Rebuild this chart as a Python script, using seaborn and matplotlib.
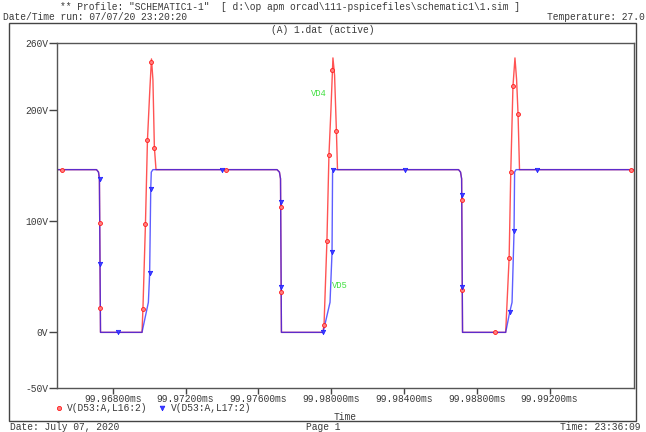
import matplotlib
matplotlib.use("Agg")
import matplotlib.pyplot as plt
import seaborn as sns
import numpy as np
import pandas as pd
from matplotlib.lines import Line2D
from matplotlib.patches import Rectangle

# trace data (time in ms, volts)
red_t = [99.96494, 99.96711, 99.96722, 99.96727, 99.96733, 99.96961, 99.96966,
         99.96980, 99.96991, 99.97004, 99.97013, 99.97021, 99.97029, 99.97038,
         99.97703, 99.97716, 99.97722, 99.97727, 99.97954, 99.97961, 99.97977,
         99.97988, 99.97999, 99.98010, 99.98019, 99.98029, 99.98035,
         99.98700, 99.98711, 99.98717, 99.98722, 99.98959, 99.98978, 99.98987,
         99.98999, 99.99010, 99.99019, 99.99027, 99.99035, 99.99664]
red_v = [146.2, 146.2, 144, 138, 0, 0, 20.6,
         97.8, 173, 218, 245.7, 227, 166, 146.2,
         146.2, 144, 138, 0, 0, 6.3, 82.5,
         159, 200, 246.6, 231, 181.2, 146.2,
         146.2, 144, 138, 0, 0, 67, 144,
         221, 246.6, 227, 196, 146.2, 146.2]

blue_t = [99.96494, 99.96711, 99.96722, 99.96727, 99.96733, 99.96961, 99.96996,
          99.97003, 99.97009, 99.97012, 99.97021, 99.97703, 99.97716, 99.97722,
          99.97727, 99.97956, 99.97994, 99.98005, 99.98008, 99.98013, 99.98700,
          99.98711, 99.98717, 99.98722, 99.98959, 99.98981, 99.98994, 99.99005,
          99.99008, 99.99016, 99.99664]
blue_v = [146.2, 146.2, 144, 138, 0, 0, 27,
          53, 129, 144, 146.2, 146.2, 144, 138,
          0, 0, 27, 72, 144, 146.2, 146.2,
          144, 138, 0, 0, 18, 27, 91,
          144, 146.2, 146.2]

red_mark_t = [99.96521, 99.96730, 99.96730, 99.96966, 99.96980, 99.96991, 99.97013,
              99.97029, 99.97423, 99.97726, 99.97726, 99.97961, 99.97977, 99.97988,
              99.98007, 99.98029, 99.98720, 99.98720, 99.98899, 99.98978, 99.98987,
              99.98999, 99.99027, 99.99648]
red_mark_v = [146.2, 98.7, 21.5, 20.6, 97.8, 173, 243,
              166, 146.2, 113, 36, 6.3, 82.5, 159,
              236, 181.2, 119, 38, 0, 67, 144,
              221, 196, 146.2]

blue_mark_t = [99.96730, 99.96730, 99.96831, 99.97003, 99.97009, 99.97401, 99.97726,
               99.97726, 99.97956, 99.98005, 99.98013, 99.98406, 99.98720, 99.98720,
               99.98981, 99.99005, 99.99131]
blue_mark_v = [138, 61, 0, 53, 129, 146.2, 117,
               41, 0, 72, 146.2, 146.2, 123, 41,
               18, 91, 146.2]

x_ticks = [99.968, 99.972, 99.976, 99.980, 99.984, 99.988, 99.992]
y_ticks = [-50, 0, 100, 200, 260]
labels = ["V(D53:A,L16:2)", "V(D53:A,L17:2)"]

sns.set_theme(style="white")
plt.rcParams['font.family'] = ['Liberation Mono', 'DejaVu Sans Mono']
txt = '#3a3a3a'
fs = 6.9
RED = '#ff1a1a'
BLUE = '#1a1aff'

W, H = 646, 432
fig = plt.figure(figsize=(6.46, 4.32), dpi=100)
ax = fig.add_axes([57 / W, 1 - 388 / H, 577 / W, 345 / H])

sns.lineplot(x=red_t, y=red_v, ax=ax, sort=False, estimator=None,
             color=RED, lw=1.0, alpha=0.75)
sns.lineplot(x=blue_t, y=blue_v, ax=ax, sort=False, estimator=None,
             color=BLUE, lw=1.0, alpha=0.7)
sns.scatterplot(x=red_mark_t, y=red_mark_v, ax=ax, marker='o', s=8,
                color='#ff8080', edgecolor=RED, linewidth=0.6, zorder=4)
sns.scatterplot(x=blue_mark_t, y=blue_mark_v, ax=ax, marker='v', s=10,
                color='#4040ff', edgecolor=BLUE, linewidth=0.5, zorder=4)

ax.set_xlim(99.96494, 99.99664)
ax.set_ylim(-50, 260)
ax.set_xticks(x_ticks)
ax.set_xticklabels([f"{v:.5f}ms" for v in x_ticks])
ax.set_yticks(y_ticks)
ax.set_yticklabels([f"{v}V" for v in y_ticks])
ax.tick_params(direction='out', length=4, width=1, color='#444444',
               labelsize=fs, labelcolor=txt, pad=0.5)
ax.tick_params(axis='y', length=6, pad=0.5)
ax.tick_params(bottom=True, left=True)
for s in ax.spines.values():
    s.set_color('#555555')
    s.set_linewidth(1.0)
ax.set_xlabel('')
ax.set_ylabel('')

ax.text(99.97934, 215, "VD4", color='#44e044', fontsize=6.3, ha='center', va='center')
ax.text(99.98046, 42, "VD5", color='#44e044', fontsize=6.3, ha='center', va='center')

# outer frame
fig.patches.append(Rectangle((9 / W, 1 - 421 / H), 627 / W, (421 - 23) / H,
                             transform=fig.transFigure, fill=False,
                             edgecolor='#444444', lw=1.0))


def ftext(x, y, s, ha='left'):
    fig.text(x / W, 1 - y / H, s, ha=ha, va='center', fontsize=fs, color=txt)


ftext(290, 7, '** Profile: "SCHEMATIC1-1"  [ d:\\op apm orcad\\111-pspicefiles\\schematic1\\1.sim ]', 'center')
ftext(3, 17, 'Date/Time run: 07/07/20 23:20:20')
ftext(645, 17, 'Temperature: 27.0', 'right')
ftext(323, 30, '(A) 1.dat (active)', 'center')
ftext(345.5, 417, 'Time', 'center')
ftext(10, 427, 'Date: July 07, 2020')
ftext(323, 427, 'Page 1', 'center')
ftext(640, 427, 'Time: 23:36:09', 'right')

handles = [Line2D([], [], ls='none', marker='o', ms=3.0, mfc='#ff8080', mec=RED, mew=0.6),
           Line2D([], [], ls='none', marker='v', ms=3.4, mfc='#4040ff', mec=BLUE, mew=0.5)]
leg = ax.legend(handles, labels, loc='center left', bbox_to_anchor=(54 / W, 1 - 408 / H),
                bbox_transform=fig.transFigure, ncol=2, frameon=False, fontsize=fs,
                handlelength=1.0, handletextpad=0.4, columnspacing=1.0,
                borderaxespad=0, borderpad=0)
for t in leg.get_texts():
    t.set_color(txt)

fig.savefig('out.png', dpi=100, facecolor='white')
